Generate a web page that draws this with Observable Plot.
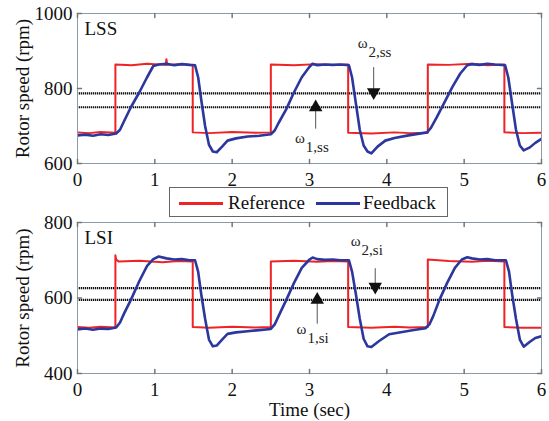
<!DOCTYPE html>
<html><head><meta charset="utf-8">
<script src="https://cdn.jsdelivr.net/npm/d3@7"></script>
<script src="https://cdn.jsdelivr.net/npm/@observablehq/plot@0.6"></script>
<style>
body{margin:0;background:#fff;}
#wrap{position:relative;width:549px;height:421px;overflow:hidden;font-family:"Liberation Serif",serif;}
#top{position:absolute;left:0;top:0;}
#bot{position:absolute;left:0;top:190px;}
#legend{position:absolute;left:169px;top:187px;width:277px;height:28px;border:1px solid #666;background:#fff;font-size:19px;color:#111;}
#legend .sw{position:absolute;top:14px;height:2.5px;}
#legend .lb{position:absolute;top:0;line-height:29px;white-space:nowrap;}
</style></head>
<body>
<div id="wrap"><div id="top"></div><div id="bot"></div><div id="legend"></div></div>
<script>
// ---------- data ----------
const seriesNames = ["Reference", "Feedback"];
const seriesColors = ["#ee2326", "#2c379e"];
const xTicks = [0, 1, 2, 3, 4, 5, 6];
const yTicksLSS = [600, 800, 1000];
const yTicksLSI = [400, 600, 800];
const thresholdsLSS = [787, 750];
const thresholdsLSI = [626, 595];

// LSS panel
const refLSS_t = [0, 0.15, 0.3, 0.49, 0.49, 0.7, 0.9, 1.14, 1.15, 1.16, 1.3, 1.49, 1.49, 1.7, 2.0, 2.3, 2.5, 2.5, 2.8, 3.1, 3.3, 3.5, 3.5, 3.8, 4.1, 4.3, 4.53, 4.53, 4.8, 5.1, 5.3, 5.52, 5.52, 5.75, 6];
const refLSS_v = [683, 681, 684, 682, 864, 862, 866, 863, 878, 863, 865, 863, 683, 681, 684, 682, 683, 864, 862, 865, 863, 864, 682, 680, 683, 681, 682, 864, 863, 866, 862, 864, 683, 681, 682];
const fbLSS_t = [0, 0.1, 0.2, 0.3, 0.4, 0.5, 0.55, 0.6, 0.69, 0.8, 0.9, 0.98, 1.05, 1.15, 1.25, 1.35, 1.45, 1.52, 1.56, 1.6, 1.65, 1.7, 1.75, 1.8, 1.87, 1.94, 2.05, 2.2, 2.35, 2.5, 2.55, 2.6, 2.7, 2.8, 2.9, 3.0, 3.04, 3.1, 3.2, 3.3, 3.4, 3.51, 3.55, 3.6, 3.65, 3.7, 3.75, 3.8, 3.88, 3.98, 4.1, 4.28, 4.4, 4.52, 4.57, 4.65, 4.75, 4.85, 4.95, 5.04, 5.1, 5.2, 5.3, 5.4, 5.53, 5.57, 5.62, 5.67, 5.72, 5.77, 5.85, 5.92, 6.0];
const fbLSS_v = [675, 677, 674, 678, 676, 680, 690, 712, 750, 790, 830, 860, 864, 866, 862, 865, 863, 862, 830, 770, 700, 650, 632, 630, 645, 661, 667, 672, 674, 678, 688, 708, 745, 790, 830, 858, 866, 862, 864, 863, 864, 862, 830, 760, 690, 648, 632, 627, 645, 661, 668, 675, 679, 683, 695, 725, 765, 805, 840, 862, 865, 863, 866, 864, 862, 830, 760, 690, 648, 635, 643, 655, 666];

// LSI panel
const refLSI_t = [0, 0.15, 0.3, 0.49, 0.49, 0.5, 0.53, 0.8, 1.1, 1.3, 1.49, 1.49, 1.7, 2.0, 2.3, 2.5, 2.5, 2.8, 3.1, 3.3, 3.5, 3.5, 3.8, 4.1, 4.3, 4.53, 4.53, 4.8, 5.1, 5.3, 5.52, 5.52, 5.75, 6];
const refLSI_v = [523, 521, 524, 522, 713, 702, 697, 699, 695, 698, 697, 523, 521, 524, 522, 523, 697, 699, 696, 698, 697, 523, 521, 524, 522, 523, 702, 698, 696, 699, 697, 523, 521, 521];
const fbLSI_t = [0, 0.1, 0.2, 0.3, 0.4, 0.5, 0.55, 0.6, 0.69, 0.8, 0.9, 0.98, 1.05, 1.15, 1.25, 1.35, 1.45, 1.52, 1.56, 1.6, 1.65, 1.7, 1.75, 1.8, 1.87, 1.94, 2.05, 2.2, 2.35, 2.5, 2.55, 2.6, 2.7, 2.8, 2.9, 3.0, 3.04, 3.1, 3.2, 3.3, 3.4, 3.51, 3.55, 3.6, 3.65, 3.7, 3.75, 3.8, 3.9, 4.03, 4.2, 4.35, 4.5, 4.55, 4.6, 4.68, 4.78, 4.88, 4.97, 5.04, 5.1, 5.2, 5.3, 5.4, 5.54, 5.58, 5.62, 5.67, 5.72, 5.77, 5.85, 5.92, 6.0];
const fbLSI_v = [517, 519, 516, 519, 518, 522, 535, 558, 595, 645, 685, 703, 710, 705, 702, 703, 700, 700, 670, 610, 545, 490, 472, 474, 490, 505, 509, 512, 515, 518, 530, 552, 595, 640, 680, 702, 707, 703, 701, 702, 700, 700, 670, 610, 545, 492, 472, 470, 486, 504, 510, 515, 520, 530, 552, 595, 640, 680, 702, 708, 705, 702, 703, 700, 700, 670, 610, 545, 490, 471, 484, 494, 499];

// annotations: omega labels (text anchor point) and arrows (x, tail, tip)
const omegaLSS = [
  {sub: "2,ss", tx: 3.75, ty: 907, ax: 3.83, tail: 857, tip: 790},
  {sub: "1,ss", tx: 2.94, ty: 653, ax: 3.08, tail: 693, tip: 750}
];
const omegaLSI = [
  {sub: "2,si", tx: 3.66, ty: 736, ax: 3.85, tail: 679, tip: 630},
  {sub: "1,si", tx: 2.96, ty: 503, ax: 3.10, tail: 532, tip: 595}
];

// ---------- helpers ----------
const zip = (t, v) => t.map((d, i) => ({t: d, v: v[i]}));
const tickShape = {draw(ctx, l) { ctx.moveTo(0, 0); ctx.lineTo(0, -l); }};
const font = '"Liberation Serif", "Times New Roman", serif';

function panel({ref, fb, yDomain, yTicks, thresholds, tag, omegas, height, marginTop, marginBottom, xLabel}) {
  const [y0, y1] = yDomain;
  return Plot.plot({
    width: 549, height, marginLeft: 77, marginRight: 8, marginTop, marginBottom,
    style: {fontFamily: font, fontSize: "19px", color: "#111", background: "transparent", overflow: "visible"},
    x: {domain: [0, 6]},
    y: {domain: yDomain},
    marks: [
      Plot.ruleY(thresholds, {stroke: "#111", strokeWidth: 2.2, strokeDasharray: "1.3,0.7"}),
      Plot.line(ref, {x: "t", y: "v", stroke: seriesColors[0], strokeWidth: 2, clip: true}),
      Plot.line(fb, {x: "t", y: "v", stroke: seriesColors[1], strokeWidth: 2.6, clip: true}),
      Plot.frame({stroke: "#8d99a4"}),
      Plot.vector(xTicks, {x: d => d, y: () => y0, length: 4, rotate: 0, anchor: "start", shape: tickShape, stroke: "#777"}),
      Plot.vector(xTicks, {x: d => d, y: () => y1, length: 4, rotate: 180, anchor: "start", shape: tickShape, stroke: "#777"}),
      Plot.vector(yTicks, {x: () => 0, y: d => d, length: 4, rotate: 90, anchor: "start", shape: tickShape, stroke: "#777"}),
      Plot.vector(yTicks, {x: () => 6, y: d => d, length: 4, rotate: -90, anchor: "start", shape: tickShape, stroke: "#777"}),
      Plot.axisX({ticks: xTicks, tickSize: 0, tickPadding: 9, tickFormat: d => String(d), label: xLabel, labelAnchor: "center", labelArrow: "none", labelOffset: 42}),
      Plot.axisY({ticks: yTicks, tickSize: 0, tickPadding: 5, tickFormat: d => String(d), label: "Rotor speed (rpm)", labelAnchor: "center", labelArrow: "none", labelOffset: 62}),
      Plot.text([tag], {frameAnchor: "top-left", dx: 7, dy: 8, lineAnchor: "top", fontSize: 19, fill: "#111"}),
      Plot.link(omegas, {x1: "ax", x2: "ax", y1: "tail", y2: "tip", stroke: "#555", strokeWidth: 1}),
      Plot.dot(omegas, {x: "ax", y: "tip", symbol: "triangle", r: 5, fill: "#111", stroke: "none",
        rotate: d => d.tip < d.tail ? 180 : 0}),
      Plot.text(omegas, {x: "tx", y: "ty", text: () => "ω", textAnchor: "end", dy: -5, fontSize: 15, fill: "#222"}),
      Plot.text(omegas, {x: "tx", y: "ty", text: "sub", textAnchor: "start", dx: 1, dy: 4, fontSize: 15, fill: "#222"})
    ]
  });
}

document.getElementById("top").appendChild(panel({
  ref: zip(refLSS_t, refLSS_v), fb: zip(fbLSS_t, fbLSS_v), yDomain: [600, 1000], yTicks: yTicksLSS,
  thresholds: thresholdsLSS, tag: "LSS", omegas: omegaLSS, height: 190, marginTop: 13, marginBottom: 27, xLabel: null
}));
document.getElementById("bot").appendChild(panel({
  ref: zip(refLSI_t, refLSI_v), fb: zip(fbLSI_t, fbLSI_v), yDomain: [400, 800], yTicks: yTicksLSI,
  thresholds: thresholdsLSI, tag: "LSI", omegas: omegaLSI, height: 231, marginTop: 32, marginBottom: 48, xLabel: "Time (sec)"
}));

// legend
const legend = document.getElementById("legend");
const legendPos = [{sw: 9, lb: 58}, {sw: 146, lb: 193}];
seriesNames.forEach((name, i) => {
  const sw = document.createElement("div");
  sw.className = "sw"; sw.style.left = legendPos[i].sw + "px"; sw.style.width = "44px"; sw.style.background = seriesColors[i];
  const lb = document.createElement("div");
  lb.className = "lb"; lb.style.left = legendPos[i].lb + "px"; lb.textContent = name;
  legend.appendChild(sw); legend.appendChild(lb);
});
</script>
</body></html>
